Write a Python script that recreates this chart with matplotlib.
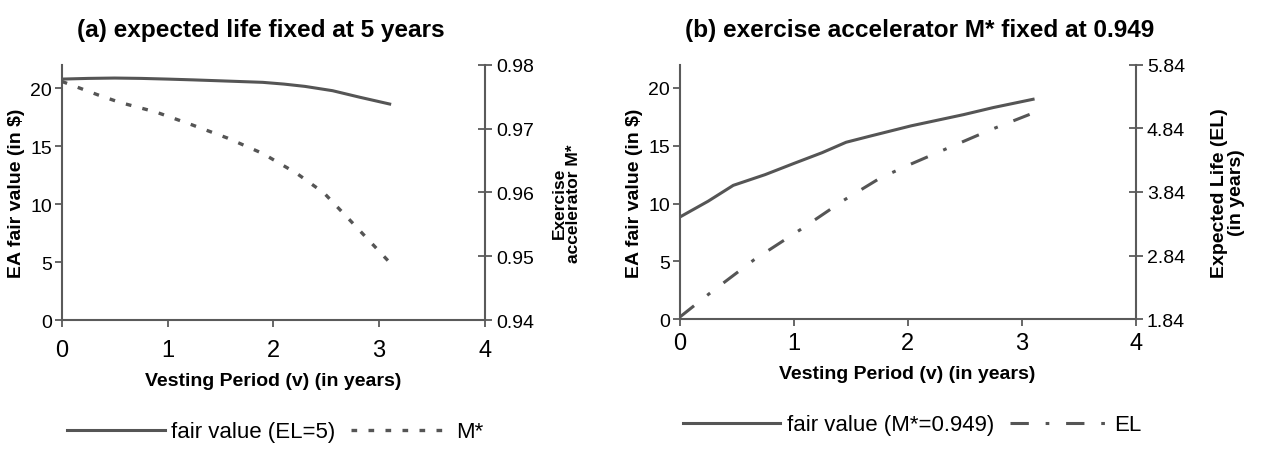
import matplotlib
matplotlib.use("Agg")
import matplotlib.pyplot as plt

plt.rcParams['font.family'] = ['Liberation Sans', 'DejaVu Sans']

# panel (a): expected life fixed at 5 years
v_a = [0.0, 0.25, 0.5, 0.75, 1.0, 1.25, 1.5, 1.9, 2.1, 2.3, 2.56, 2.82, 3.1]
fv_a = [20.77, 20.83, 20.86, 20.83, 20.77, 20.7, 20.62, 20.49, 20.34, 20.14,
        19.77, 19.2, 18.62]
v_m = [0.0, 0.34, 0.55, 0.89, 1.23, 1.57, 1.9, 2.22, 2.48, 2.71, 2.96, 3.09]
m_star = [0.9774, 0.9753, 0.9741, 0.9726, 0.9706, 0.9685, 0.9661, 0.9630,
          0.9599, 0.9559, 0.9515, 0.9492]

# panel (b): exercise accelerator fixed at 0.949
v_b = [0.0, 0.25, 0.47, 0.75, 1.0, 1.25, 1.46, 1.67, 2.03, 2.49, 2.75, 3.1]
fv_b = [8.82, 10.2, 11.57, 12.5, 13.46, 14.4, 15.3, 15.83, 16.72, 17.69, 18.3, 19.02]
v_el = [0.0, 0.26, 0.65, 1.07, 1.44, 1.76, 2.03, 2.34, 2.73, 3.07]
el = [1.87, 2.24, 2.77, 3.26, 3.71, 4.06, 4.28, 4.52, 4.82, 5.06]

x_ticks = [0, 1, 2, 3, 4]
left_ticks = [0, 5, 10, 15, 20]
right_ticks_a = [0.94, 0.95, 0.96, 0.97, 0.98]
right_ticks_b = [1.84, 2.84, 3.84, 4.84, 5.84]

spine_c = '#5a5a5a'
line_c = '#555555'

fig = plt.figure(figsize=(12.61, 4.77), dpi=100)


def style_axes(ax, ax2, right_ticks, right_labels, xpad):
    for a in (ax, ax2):
        a.spines['top'].set_visible(False)
        for s in a.spines.values():
            s.set_color(spine_c)
            s.set_linewidth(1.5)
    ax.spines['right'].set_visible(False)
    ax2.spines['left'].set_visible(False)
    ax2.spines['bottom'].set_visible(False)
    ax.set_xlim(0, 4)
    ax.set_ylim(0, 22)
    ax.set_xticks(x_ticks)
    ax.set_yticks(left_ticks)
    ax.tick_params(axis='x', direction='out', length=5, width=1.3, color=spine_c,
                   labelsize=17, pad=xpad)
    ax.tick_params(axis='y', direction='out', length=5, width=1.3, color=spine_c,
                   labelsize=14, pad=2)
    ax2.set_ylim(right_ticks[0], right_ticks[-1])
    ax2.set_yticks(right_ticks)
    ax2.set_yticklabels(right_labels)
    ax2.tick_params(axis='y', direction='inout', length=10, width=1.3, color=spine_c,
                    labelsize=14, pad=3)
    ax.set_xlabel('Vesting Period (v) (in years)', fontsize=14, fontweight='bold',
                  labelpad=8)
    ax.set_ylabel(r'EA fair value (in \$)', fontsize=14, fontweight='bold', labelpad=4)


# (a)
ax1 = fig.add_axes([0.049, 0.327, 0.3355, 0.535])
ax1b = ax1.twinx()
style_axes(ax1, ax1b, right_ticks_a, ['0.94', '0.95', '0.96', '0.97', '0.98'], 8.5)
l1, = ax1.plot(v_a, fv_a, color=line_c, lw=2.2)
l2, = ax1b.plot(v_m, m_star, color=line_c, lw=2.4, ls=(0, (1.7, 3.4)))
ax1b.set_ylabel('Exercise\naccelerator M*', fontsize=12.5, fontweight='bold',
                linespacing=0.95)
ax1b.yaxis.set_label_coords(1.158, 0.46)
fig.text(261 / 1261, 1 - 30 / 477, '(a) expected life fixed at 5 years', fontsize=17.6,
         fontweight='bold', ha='center', va='center')
ax1.legend([l1, l2], ['fair value (EL=5)', 'M*'], loc='center',
           bbox_to_anchor=(275 / 1261, 1 - 433 / 477), bbox_transform=fig.transFigure,
           ncol=2, frameon=False, fontsize=16, handlelength=4.4, columnspacing=0.7,
           handletextpad=0.3)

# (b)
ax2 = fig.add_axes([0.539, 0.329, 0.3616, 0.533])
ax2b = ax2.twinx()
style_axes(ax2, ax2b, right_ticks_b, ['1.84', '2.84', '3.84', '4.84', '5.84'], 4)
l3, = ax2.plot(v_b, fv_b, color=line_c, lw=2.2)
l4, = ax2b.plot(v_el, el, color=line_c, lw=2.2, ls=(0, (6, 5.5, 1.2, 5.5)))
ax2b.set_ylabel('Expected Life (EL)\n(in years)', fontsize=14, fontweight='bold',
                labelpad=19, linespacing=0.95)
fig.text(920 / 1261, 1 - 30 / 477, '(b) exercise accelerator M* fixed at 0.949',
         fontsize=17.6, fontweight='bold', ha='center', va='center')
ax2.legend([l3, l4], ['fair value (M*=0.949)', 'EL'], loc='center',
           bbox_to_anchor=(912 / 1261, 1 - 426 / 477), bbox_transform=fig.transFigure,
           ncol=2, frameon=False, fontsize=16, handlelength=4.4, columnspacing=0.7,
           handletextpad=0.3)

fig.savefig('out.png', dpi=100)
